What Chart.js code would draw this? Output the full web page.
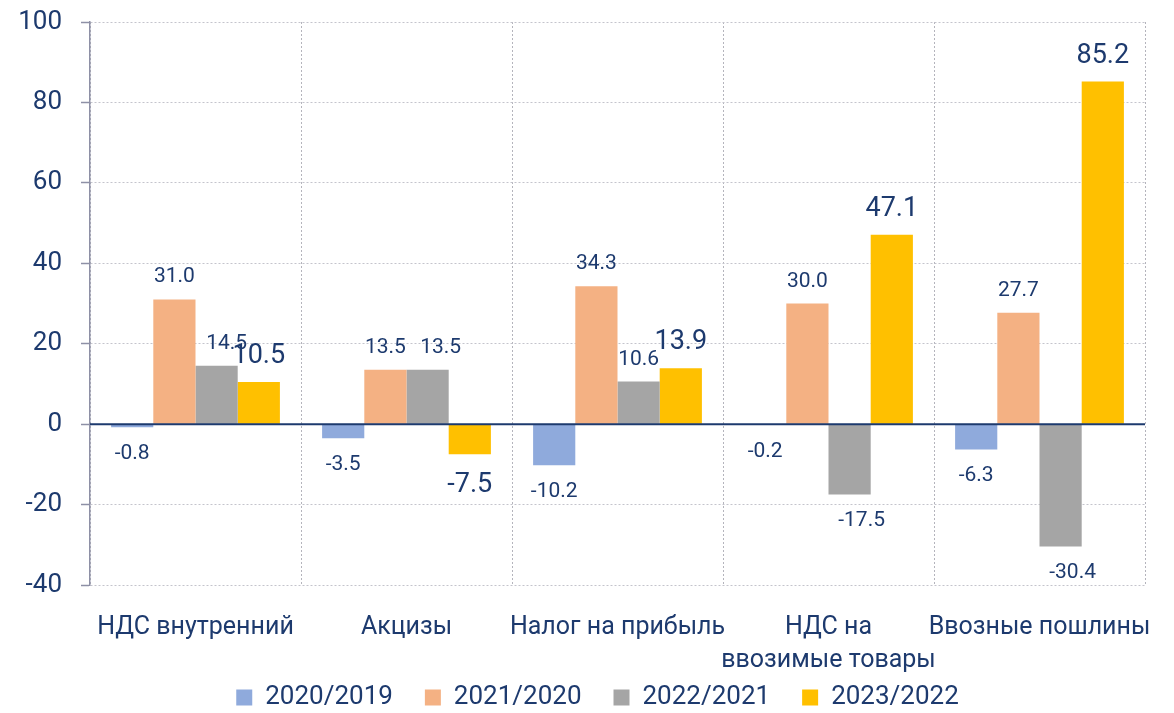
<!DOCTYPE html>
<html>
<head>
<meta charset="utf-8">
<script src="https://cdn.jsdelivr.net/npm/chart.js@4/dist/chart.umd.min.js"></script>
<style>
  body { margin: 0; background: #fff; }
  #wrap { width: 1174px; height: 713px; }
</style>
</head>
<body>
<div id="wrap"><canvas id="taxChart"></canvas></div>
<script>
// categories (multi-line label is an array)
var categories = ['НДС внутренний', 'Акцизы', 'Налог на прибыль', ['НДС на', 'ввозимые товары'], 'Ввозные пошлины'];
var seriesNames = ['2020/2019', '2021/2020', '2022/2021', '2023/2022'];

// growth, %
var growth2020 = [-0.8, -3.5, -10.2, -0.2, -6.3];
var growth2021 = [31.0, 13.5, 34.3, 30.0, 27.7];
var growth2022 = [14.5, 13.5, 10.6, -17.5, -30.4];
var growth2023 = [10.5, -7.5, 13.9, 47.1, 85.2];

var yTicks = [-40, -20, 0, 20, 40, 60, 80, 100];

var navy = '#1d3a6e';
var fontName = 'Roboto';
var legendPad = 32;

// a few labels sit a bit to the right of their bar in the original
var labelNudge = { '2:0': 10, '2:1': 13, '2:3': 12, '2:4': 12 };

// draws the zero line and the value labels
var barLabels = {
    id: 'barLabels',
    afterLayout: function(chart) {
        // legend row sits at the very bottom; grow its box upwards so nothing gets clipped
        var lg = chart.legend;
        lg.top = 697 - legendPad - 12.5;
        lg.bottom = chart.height;
        lg.left += 16;
        lg.right += 16;
    },
    afterDatasetsDraw: function(chart) {
        var ctx = chart.ctx;
        var area = chart.chartArea;
        var zero = chart.scales.y.getPixelForValue(0);

        ctx.save();
        ctx.strokeStyle = navy;
        ctx.lineWidth = 2;
        ctx.beginPath();
        ctx.moveTo(area.left, zero);
        ctx.lineTo(area.right, zero);
        ctx.stroke();

        chart.data.datasets.forEach(function(ds, i) {
            var meta = chart.getDatasetMeta(i);
            var big = (i === 3);
            var size = big ? 27 : 21;
            var gap = big ? 19 : 17;
            ctx.font = size + 'px ' + fontName;
            ctx.fillStyle = navy;
            ctx.textAlign = 'center';
            ctx.textBaseline = 'alphabetic';
            meta.data.forEach(function(bar, j) {
                var v = ds.data[j];
                var y = v >= 0 ? bar.y - gap : bar.y + gap + size * 0.71;
                var dx = labelNudge[i + ':' + j] || 0;
                ctx.fillText(v.toFixed(1), bar.x + dx, y);
            });
        });
        ctx.restore();
    }
};

var ctx = document.getElementById('taxChart').getContext('2d');
var taxChart = new Chart(ctx, {
    type: 'bar',
    data: {
        labels: categories,
        datasets: [
            { label: seriesNames[0], data: growth2020, backgroundColor: '#8FAADC' },
            { label: seriesNames[1], data: growth2021, backgroundColor: '#F4B183' },
            { label: seriesNames[2], data: growth2022, backgroundColor: '#A5A5A5' },
            { label: seriesNames[3], data: growth2023, backgroundColor: '#FFC000' }
        ]
    },
    options: {
        responsive: true,
        maintainAspectRatio: false,
        animation: false,
        datasets: {
            bar: { categoryPercentage: 0.8, barPercentage: 1.0, borderWidth: 0 }
        },
        layout: {
            padding: { left: 18, right: 29, top: 22, bottom: 0 }
        },
        plugins: {
            tooltip: { enabled: false },
            legend: {
                position: 'bottom',
                maxHeight: 36,
                labels: {
                    boxWidth: 16,
                    boxHeight: 16,
                    padding: legendPad,
                    color: navy,
                    font: { family: fontName, size: 26 }
                }
            }
        },
        scales: {
            x: {
                grid: {
                    display: true,
                    offset: true,
                    color: '#b4b4bc',
                    drawTicks: false
                },
                border: { display: false, dash: [2, 2] },
                ticks: {
                    color: navy,
                    padding: 26,
                    maxRotation: 0,
                    autoSkip: false,
                    font: { family: fontName, size: 25, lineHeight: 1.32 }
                },
                afterFit: function(scale) {
                    scale.height = 92;
                    scale.paddingLeft = 0;
                    scale.paddingRight = 0;
                }
            },
            y: {
                min: -40,
                max: 100,
                afterBuildTicks: function(scale) {
                    scale.ticks = yTicks.map(function(v) { return { value: v }; });
                },
                grid: {
                    color: '#c4c4cc',
                    tickLength: 9,
                    tickColor: '#8e90a6',
                    tickWidth: 1.5,
                    tickBorderDash: []
                },
                border: { display: true, color: '#8e90a6', width: 1.5, dash: [2, 2] },
                ticks: {
                    color: navy,
                    padding: 19,
                    font: { family: fontName, size: 26 }
                },
                afterFit: function(scale) {
                    scale.width = 72;
                    scale.paddingTop = 0;
                    scale.paddingBottom = 0;
                }
            }
        }
    },
    plugins: [barLabels]
});
</script>
</body>
</html>
